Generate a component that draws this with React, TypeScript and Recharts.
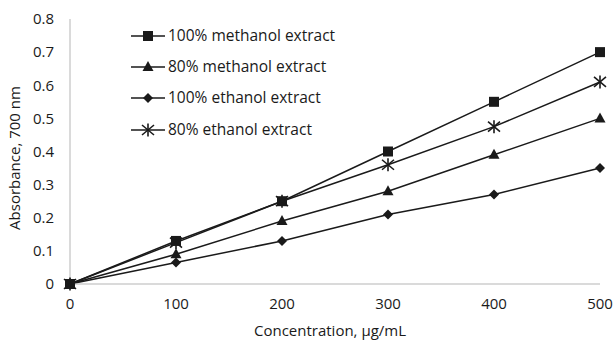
import { LineChart, Line, XAxis, YAxis, Legend, Label } from 'recharts'

const concentrations = [0, 100, 200, 300, 400, 500]
const methanol100 = [0, 0.13, 0.25, 0.4, 0.55, 0.7]
const methanol80 = [0, 0.09, 0.19, 0.28, 0.39, 0.5]
const ethanol100 = [0, 0.065, 0.13, 0.21, 0.27, 0.35]
const ethanol80 = [0, 0.125, 0.25, 0.36, 0.475, 0.61]
const yTicks = [0, 0.1, 0.2, 0.3, 0.4, 0.5, 0.6, 0.7, 0.8]

const seriesNames = [
  '100% methanol extract',
  '80% methanol extract',
  '100% ethanol extract',
  '80% ethanol extract',
]

const data = concentrations.map((c, i) => ({
  conc: c,
  m100: methanol100[i],
  m80: methanol80[i],
  e100: ethanol100[i],
  e80: ethanol80[i],
}))

const INK = '#1a1a1a'
const FONT = '"Open Sans", sans-serif'

type Shape = 'square' | 'triangle' | 'diamond' | 'star'

function marker(shape: Shape, cx: number, cy: number, key?: string) {
  if (shape === 'square') {
    return <rect key={key} x={cx - 5} y={cy - 5} width={10} height={10} fill={INK} />
  }
  if (shape === 'triangle') {
    return <polygon key={key} points={`${cx},${cy - 6} ${cx + 5.5},${cy + 4} ${cx - 5.5},${cy + 4}`} fill={INK} />
  }
  if (shape === 'diamond') {
    return <polygon key={key} points={`${cx},${cy - 5} ${cx + 5},${cy} ${cx},${cy + 5} ${cx - 5},${cy}`} fill={INK} />
  }
  // asterisk: vertical stroke plus two diagonals
  return (
    <g key={key} stroke={INK} strokeWidth={1.6}>
      <line x1={cx} y1={cy - 6.5} x2={cx} y2={cy + 6.5} />
      <line x1={cx - 6} y1={cy - 5} x2={cx + 6} y2={cy + 5} />
      <line x1={cx - 6} y1={cy + 5} x2={cx + 6} y2={cy - 5} />
    </g>
  )
}

const dotFor = (shape: Shape) => (props: any) =>
  marker(shape, props.cx, props.cy, `${shape}-${props.index}`)

const shapes: Shape[] = ['square', 'triangle', 'diamond', 'star']

function renderLegend() {
  return (
    <div style={{ fontFamily: FONT, fontSize: 15.5, color: INK, lineHeight: 1 }}>
      {seriesNames.map((name, i) => (
        <div key={name} style={{ display: 'flex', alignItems: 'center', height: 31.3 }}>
          <svg width={36} height={16}>
            <line x1={0} y1={8} x2={34} y2={8} stroke={INK} strokeWidth={1.5} />
            {marker(shapes[i], 17, 8)}
          </svg>
          <span style={{ marginLeft: 1, whiteSpace: 'nowrap' }}>{name}</span>
        </div>
      ))}
    </div>
  )
}

export default function App() {
  return (
    <div style={{ position: 'absolute', left: 0, top: 0, background: '#fff' }}>
      <LineChart width={616} height={340} data={data} margin={{ top: 19, right: 16, left: 0, bottom: 0 }}>
        <XAxis
          dataKey="conc"
          type="number"
          domain={[0, 500]}
          ticks={concentrations}
          height={56}
          tickSize={0}
          tickMargin={14}
          stroke="#b5b5b5"
          tick={{ fill: INK, fontSize: 15, fontFamily: FONT }}
        >
          <Label
            content={() => (
              <text x={330} y={336} textAnchor="middle" fill={INK} fontSize={15} fontFamily={FONT}>
                Concentration, µg/mL
              </text>
            )}
          />
        </XAxis>
        <YAxis
          type="number"
          domain={[0, 0.8]}
          ticks={yTicks}
          width={70}
          tickSize={0}
          tickMargin={16}
          stroke="#b5b5b5"
          tick={{ fill: INK, fontSize: 15, fontFamily: FONT }}
          tickFormatter={(v: number) => (v === 0 ? '0' : v.toFixed(1))}
        >
          <Label
            content={() => (
              <text
                x={20}
                y={158}
                transform="rotate(-90 20 158)"
                textAnchor="middle"
                fill={INK}
                fontSize={15}
                fontFamily={FONT}
              >
                Absorbance, 700 nm
              </text>
            )}
          />
        </YAxis>
        <Legend
          layout="horizontal"
          verticalAlign="middle"
          align="center"
          wrapperStyle={{ left: 131, top: 20, width: 240 }}
          content={renderLegend}
        />
        <Line dataKey="m100" stroke={INK} strokeWidth={1.5} dot={dotFor('square')} isAnimationActive={false} />
        <Line dataKey="m80" stroke={INK} strokeWidth={1.5} dot={dotFor('triangle')} isAnimationActive={false} />
        <Line dataKey="e100" stroke={INK} strokeWidth={1.5} dot={dotFor('diamond')} isAnimationActive={false} />
        <Line dataKey="e80" stroke={INK} strokeWidth={1.5} dot={dotFor('star')} isAnimationActive={false} />
      </LineChart>
    </div>
  )
}
